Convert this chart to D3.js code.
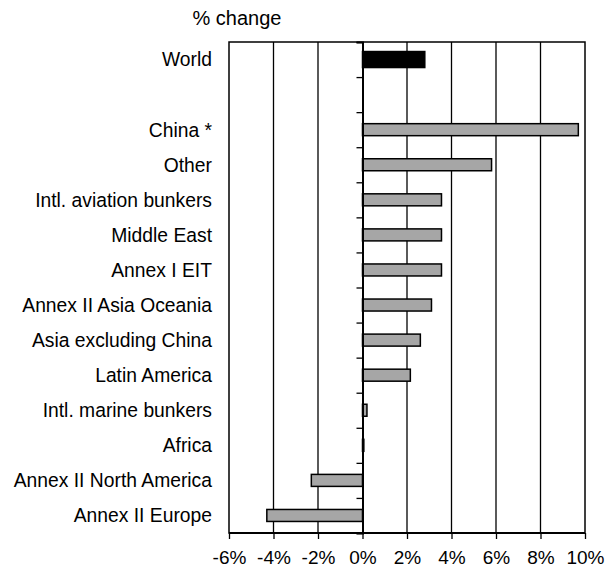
<html>
<body style="margin:0;background:#fff">
<svg class="chart"></svg>
</body>
<style>
  text { font-family: "Liberation Sans", Arial, sans-serif; fill: #000; }
  .x-axis .domain { display: none; }
</style>

<script src="https://d3js.org/d3.v7.min.js"></script>
<script>
  var categories = ["World", "", "China *", "Other", "Intl. aviation bunkers", "Middle East",
    "Annex I EIT", "Annex II Asia Oceania", "Asia excluding China", "Latin America",
    "Intl. marine bunkers", "Africa", "Annex II North America", "Annex II Europe"];
  var values = [2.8, null, 9.7, 5.8, 3.55, 3.55, 3.55, 3.1, 2.6, 2.15, 0.2, 0.06, -2.3, -4.3];
  var xTicks = [-6, -4, -2, 0, 2, 4, 6, 8, 10];
  var axisTitle = "% change";

  var width = 615;
  var height = 568;
  var plotLeft = 229, plotRight = 585, plotTop = 42, plotBottom = 533;

  var data = categories.map(function(c, i) { return {name: c, key: "r" + i, value: values[i], idx: i}; });

  var x = d3.scaleLinear().domain([-6, 10]).range([plotLeft, plotRight]);
  var y = d3.scaleBand().domain(data.map(function(d) { return d.key; })).range([plotTop, plotBottom]);
  var rows = d3.scaleLinear().domain([0, categories.length]).range([plotTop, plotBottom]);

  var chart = d3.select(".chart")
    .attr("width", width)
    .attr("height", height);

  // vertical gridlines
  chart.append("g").selectAll("line")
      .data(xTicks.filter(function(t) { return t > -6 && t < 10 && t != 0; }))
    .enter().append("line")
      .attr("x1", function(d) { return x(d); })
      .attr("x2", function(d) { return x(d); })
      .attr("y1", plotTop)
      .attr("y2", plotBottom)
      .attr("stroke", "#000")
      .attr("stroke-width", 1.3);

  // bars
  chart.append("g").selectAll("rect")
      .data(data.filter(function(d) { return d.value != null; }))
    .enter().append("rect")
      .attr("x", function(d) { return x(Math.min(0, d.value)); })
      .attr("width", function(d) { return Math.abs(x(d.value) - x(0)); })
      .attr("y", function(d) {
        var h = d.idx == 0 ? 16 : 12;
        return y(d.key) + y.bandwidth() / 2 - h / 2;
      })
      .attr("height", function(d) { return d.idx == 0 ? 16 : 12; })
      .attr("fill", function(d) { return d.idx == 0 ? "#000" : "#a6a6a6"; })
      .attr("stroke", "#000")
      .attr("stroke-width", 1.5);

  // frame
  chart.append("rect")
    .attr("x", plotLeft)
    .attr("y", plotTop)
    .attr("width", plotRight - plotLeft)
    .attr("height", plotBottom - plotTop)
    .attr("fill", "none")
    .attr("stroke", "#000")
    .attr("stroke-width", 1.5);

  // zero axis with row ticks
  var zeroAxis = chart.append("g")
    .attr("transform", "translate(" + x(0) + ",0)")
    .call(d3.axisLeft(rows).tickValues(d3.range(0, categories.length + 1)).tickSize(6).tickFormat(""));
  zeroAxis.select(".domain").attr("stroke-width", 2);
  zeroAxis.selectAll(".tick line").attr("stroke-width", 1.3);

  // bottom axis
  var xAxis = chart.append("g")
    .attr("class", "x-axis")
    .attr("transform", "translate(0," + plotBottom + ")")
    .call(d3.axisBottom(x).tickValues(xTicks).tickSize(6).tickPadding(12)
      .tickFormat(function(d) { return d + "%"; }));
  xAxis.selectAll(".tick line").attr("stroke-width", 1.3);
  xAxis.selectAll("text").style("font-size", "19px");
  chart.append("line")
    .attr("x1", plotLeft).attr("x2", plotRight)
    .attr("y1", plotBottom).attr("y2", plotBottom)
    .attr("stroke", "#000").attr("stroke-width", 2);

  // category labels
  chart.append("g").selectAll("text")
      .data(data)
    .enter().append("text")
      .attr("x", 212)
      .attr("y", function(d) { return y(d.key) + y.bandwidth() / 2; })
      .attr("dy", "0.36em")
      .attr("text-anchor", "end")
      .style("font-size", "19.3px")
      .text(function(d) { return d.name; });

  chart.append("text")
    .attr("x", 237)
    .attr("y", 25)
    .attr("text-anchor", "middle")
    .style("font-size", "20px")
    .text(axisTitle);
</script>
</html>
